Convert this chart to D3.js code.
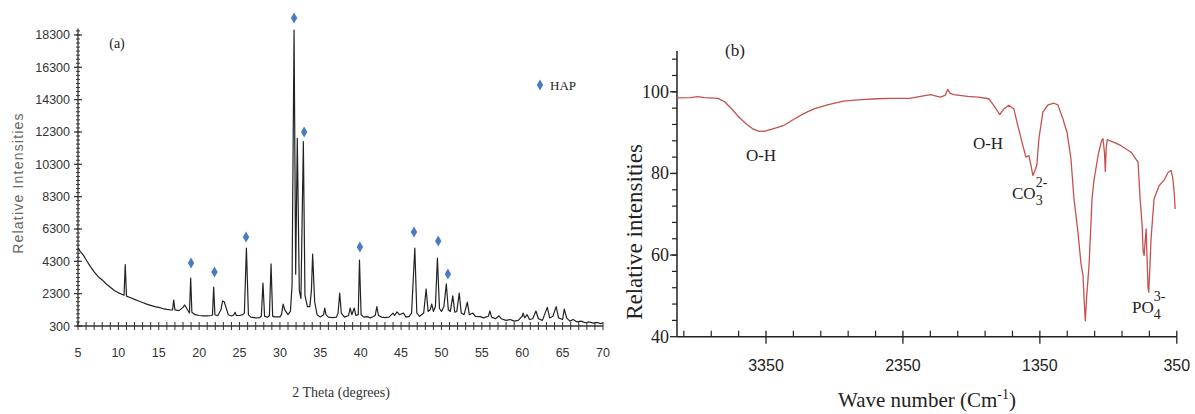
<!DOCTYPE html>
<html><head><meta charset="utf-8">
<script src="https://cdn.jsdelivr.net/npm/d3@7"></script>
<style>body{margin:0;background:#fff}svg{display:block}</style>
</head><body>
<svg id="c" width="1195" height="414"></svg>
<script>
// ---------- Panel (a): XRD ----------
const xrdTheta = [5.0,5.3,5.7,6.0,6.5,7.0,7.5,8.0,8.5,9.0,9.5,10.0,10.5,10.7,10.85,11.0,11.5,12.0,12.5,13.0,13.5,14.0,14.5,15.0,15.5,16.0,16.5,16.7,16.85,17.0,17.5,18.0,18.2,18.5,18.8,18.95,19.1,19.5,20.0,20.5,21.0,21.5,21.65,21.8,21.95,22.3,22.7,22.9,23.1,23.3,23.6,24.0,24.3,24.45,24.6,25.0,25.4,25.6,25.85,26.1,26.4,27.0,27.5,27.7,27.9,28.1,28.5,28.7,28.9,29.1,29.4,30.0,30.2,30.4,30.6,31.0,31.3,31.5,31.75,31.95,32.15,32.4,32.6,32.9,33.1,33.4,33.7,33.9,34.05,34.3,34.6,35.0,35.4,35.55,35.7,36.0,36.5,37.0,37.2,37.4,37.6,38.0,38.5,38.7,38.9,39.2,39.4,39.7,39.85,40.05,40.4,40.8,41.2,41.8,42.0,42.2,42.6,43.0,43.5,44.0,44.2,44.5,44.8,45.3,45.6,46.0,46.3,46.7,46.95,47.3,47.8,48.1,48.35,48.6,48.8,49.0,49.25,49.5,49.75,50.0,50.3,50.6,50.85,51.1,51.4,51.65,51.9,52.2,52.45,52.8,53.2,53.45,53.9,54.2,54.8,55.2,55.8,56.0,56.2,56.7,57.1,57.4,58.0,58.5,59.0,59.5,60.0,60.1,60.3,60.6,60.9,61.3,61.7,62.0,62.5,63.1,63.4,63.8,64.2,64.5,65.0,65.2,65.5,65.9,66.3,66.8,67.3,67.8,68.3,68.8,69.3,69.7,70.0];
const xrdIntensity = [5100,4900,4650,4400,4000,3650,3350,3150,2900,2700,2500,2350,2250,2200,4100,2150,2050,1950,1850,1750,1650,1580,1500,1450,1380,1330,1290,1300,1900,1300,1250,1450,1600,1350,1100,3270,1150,1000,950,930,930,950,980,2710,1000,930,1300,1850,1800,1500,1000,920,1000,1150,950,950,1000,1100,5125,1000,850,800,820,900,2960,900,850,950,4140,900,860,860,1000,1650,1300,1000,1200,2800,18600,3500,11900,2500,2000,11700,2200,1500,1500,2500,4750,1800,1000,850,1000,1410,1000,850,820,850,1100,2340,1100,850,950,1410,1000,1410,950,1000,4380,1000,850,880,800,950,1500,950,850,820,850,1100,950,1170,1000,1100,850,900,1100,5125,1100,900,1100,2590,1200,1300,1660,1200,1500,4500,1400,1200,1500,2900,1300,1200,2160,1150,1200,2340,1100,1000,1780,1000,1100,900,880,800,900,1230,850,750,920,750,650,700,600,650,900,1100,800,1000,700,750,1230,750,650,1450,800,900,1500,800,700,1350,800,600,700,550,600,500,550,480,520,450,500];
const hapTheta  = [19.0,21.9,25.8,31.75,33.0,39.9,46.6,49.6,50.8];
const hapMarker = [4200,3640,5800,19350,12300,5190,6120,5560,3520];
const xrdYTicks = [300,2300,4300,6300,8300,10300,12300,14300,16300,18300];
const xrdXTicks = [5,10,15,20,25,30,35,40,45,50,55,60,65,70];

// ---------- Panel (b): FTIR ----------
const irWave = [4000,3900,3850,3800,3700,3650,3600,3550,3500,3450,3400,3350,3300,3224,3150,3078,3000,2902,2785,2650,2536,2450,2300,2221,2148,2100,2075,2040,2023,2005,1980,1877,1800,1723,1687,1660,1643,1613,1577,1540,1511,1474,1452,1430,1415,1401,1386,1372,1357,1328,1291,1247,1218,1182,1152,1123,1101,1072,1050,1035,1025,1018,1008,991,969,955,925,900,889,878,872,866,858,845,800,757,684,633,618,603,596,589,582,574,566,560,555,548,538,516,479,440,413,391,380,369,362];
const irTrans = [98.5,98.6,98.8,98.6,98.4,97.5,95.8,93.9,92.3,91.0,90.3,90.4,90.9,91.7,93.2,94.6,95.8,96.8,97.7,98.1,98.3,98.4,98.4,98.9,99.3,98.9,98.7,99.2,100.6,99.6,99.3,98.9,98.7,98.3,96.7,95.3,94.4,95.8,96.7,95.8,91.7,86.8,84.0,84.4,82.0,79.5,80.7,82.0,88.5,95.0,96.8,97.2,96.8,93.4,90.1,83.6,73.8,65.7,58.0,55.0,48.0,43.9,50.0,57.4,73.8,78.3,84.4,88.0,88.5,85.0,80.5,86.0,88.3,88.1,87.5,86.8,85.2,82.8,73.8,67.2,61.0,59.9,63.0,66.4,58.0,52.0,50.9,56.0,64.0,73.8,77.0,78.5,80.3,80.7,79.0,75.4,71.3];
const irYTicks = [40,60,80,100];
const irXTicks = [3350,2350,1350,350];

const svg = d3.select("#c");
const serif = "Liberation Serif, Times New Roman, serif";
const sans = "Liberation Sans, Arial, sans-serif";

// ===== Panel (a) =====
const xA = d3.scaleLinear().domain([5,70]).range([78,603]);
const yA = d3.scaleLinear().domain([300,18700]).range([326,28.5]);
const axCol = "#333";
const gA = svg.append("g");

gA.append("line").attr("x1",78).attr("x2",78).attr("y1",yA(18700)).attr("y2",yA(300)).attr("stroke",axCol).attr("stroke-width",1.3);
gA.append("line").attr("x1",78).attr("x2",603).attr("y1",326).attr("y2",326).attr("stroke",axCol).attr("stroke-width",1.3);

const yMinor = d3.range(300,18700,250);
gA.selectAll(".ymin").data(yMinor).join("line").attr("x1",76).attr("x2",80)
  .attr("y1",d=>yA(d)).attr("y2",d=>yA(d)).attr("stroke",axCol).attr("stroke-width",1);
gA.selectAll(".ymaj").data(xrdYTicks).join("line").attr("x1",74).attr("x2",82)
  .attr("y1",d=>yA(d)).attr("y2",d=>yA(d)).attr("stroke",axCol).attr("stroke-width",1.2);
gA.selectAll(".ylab").data(xrdYTicks).join("text").attr("x",70).attr("y",d=>yA(d)+4.5)
  .attr("text-anchor","end").attr("font-family",sans).attr("font-size",12.5)
  .attr("fill","#333").text(d=>d);

const xMinor = d3.range(5,71,1);
gA.selectAll(".xmin").data(xMinor).join("line").attr("x1",d=>xA(d)).attr("x2",d=>xA(d))
  .attr("y1",322).attr("y2",330).attr("stroke",axCol).attr("stroke-width",1);
gA.selectAll(".xlab").data(xrdXTicks).join("text").attr("x",d=>xA(d)).attr("y",357)
  .attr("text-anchor","middle").attr("font-family",sans).attr("font-size",12.5)
  .attr("fill","#333").text(d=>d);

const lineA = d3.line().x(d=>xA(d[0])).y(d=>yA(d[1]));
gA.append("path").datum(d3.zip(xrdTheta,xrdIntensity)).attr("d",lineA)
  .attr("fill","none").attr("stroke","#222").attr("stroke-width",1.2).attr("stroke-linejoin","round");

const diamond = (cx,cy)=>`M${cx},${cy-5.5}L${cx+3.2},${cy}L${cx},${cy+5.5}L${cx-3.2},${cy}Z`;
gA.selectAll(".hap").data(d3.zip(hapTheta,hapMarker)).join("path")
  .attr("d",d=>diamond(xA(d[0]),yA(d[1]))).attr("fill","#4a7cc4");
gA.append("path").attr("d",diamond(540,85)).attr("fill","#4a7cc4");
gA.append("text").attr("x",550).attr("y",89.5).attr("font-family",serif)
  .attr("font-size",13).attr("fill","#222").text("HAP");

gA.append("text").attr("x",117).attr("y",48).attr("text-anchor","middle")
  .attr("font-family",serif).attr("font-size",14).attr("fill","#222").text("(a)");
gA.append("text").attr("x",341).attr("y",397).attr("text-anchor","middle")
  .attr("font-family",serif).attr("font-size",14).attr("fill","#333").text("2 Theta (degrees)");
gA.append("text").attr("transform","translate(23,183) rotate(-90)").attr("text-anchor","middle")
  .attr("font-family",sans).attr("font-size",14).attr("letter-spacing",1.2)
  .attr("fill","#666").text("Relative Intensities");

// ===== Panel (b) =====
const xB = d3.scaleLinear().domain([4000,350]).range([677,1176.8]);
const yB = d3.scaleLinear().domain([40,110]).range([336.7,51]);
const gB = svg.append("g");

gB.append("line").attr("x1",677).attr("x2",677).attr("y1",yB(110)).attr("y2",yB(40)).attr("stroke","#222").attr("stroke-width",1.5);
gB.append("line").attr("x1",677).attr("x2",xB(350)).attr("y1",yB(40)).attr("y2",yB(40)).attr("stroke","#222").attr("stroke-width",1.5);

const yMinorB = d3.range(44,110,4);
gB.selectAll(".ybm").data(yMinorB).join("line").attr("x1",672).attr("x2",677)
  .attr("y1",d=>yB(d)).attr("y2",d=>yB(d)).attr("stroke","#222").attr("stroke-width",1.2);
gB.selectAll(".ybM").data(irYTicks).join("line").attr("x1",670).attr("x2",677)
  .attr("y1",d=>yB(d)).attr("y2",d=>yB(d)).attr("stroke","#222").attr("stroke-width",1.3);
gB.selectAll(".ybl").data(irYTicks).join("text").attr("x",669).attr("y",d=>yB(d)+6)
  .attr("text-anchor","end").attr("font-family",serif).attr("font-size",18).attr("fill","#222").text(d=>d);

const xMinorSet = Array.from(new Set(d3.range(3950,349,-200).concat(d3.range(3150,349,-200)))).filter(v=>!irXTicks.includes(v));
gB.selectAll(".xbm").data(xMinorSet).join("line").attr("x1",d=>xB(d)).attr("x2",d=>xB(d))
  .attr("y1",yB(40)-6).attr("y2",yB(40)).attr("stroke","#222").attr("stroke-width",1.2);
gB.selectAll(".xbM").data(irXTicks).join("line").attr("x1",d=>xB(d)).attr("x2",d=>xB(d))
  .attr("y1",yB(40)-6).attr("y2",yB(40)+7).attr("stroke","#222").attr("stroke-width",1.3);
gB.selectAll(".xbl").data(irXTicks).join("text").attr("x",d=>xB(d)).attr("y",371)
  .attr("text-anchor","middle").attr("font-family",sans).attr("font-size",16).attr("fill","#222").text(d=>d);

const lineB = d3.line().x(d=>xB(d[0])).y(d=>yB(d[1]));
gB.append("path").datum(d3.zip(irWave,irTrans)).attr("d",lineB)
  .attr("fill","none").attr("stroke","#c4514e").attr("stroke-width",1.3).attr("stroke-linejoin","round");

gB.append("text").attr("x",735).attr("y",56).attr("text-anchor","middle")
  .attr("font-family",serif).attr("font-size",17).attr("fill","#222").text("(b)");
gB.append("text").attr("transform","translate(642,232) rotate(-90)").attr("text-anchor","middle")
  .attr("font-family",serif).attr("font-size",23).attr("fill","#222").text("Relative intensities");
const wt = gB.append("text").attr("x",927).attr("y",407).attr("text-anchor","middle")
  .attr("font-family",serif).attr("font-size",21).attr("fill","#222");
wt.append("tspan").text("Wave number (Cm");
wt.append("tspan").attr("dy",-8).attr("font-size",14).text("-1");
wt.append("tspan").attr("dy",8).text(")");

const ann = (x,y,t)=>gB.append("text").attr("x",x).attr("y",y).attr("text-anchor","middle")
  .attr("font-family",serif).attr("font-size",17).attr("fill","#222").text(t);
ann(761,161,"O-H");
ann(988,149,"O-H");
const co = gB.append("text").attr("x",1012).attr("y",199).attr("font-family",serif).attr("font-size",17).attr("fill","#222");
co.append("tspan").text("CO");
co.append("tspan").attr("dy",6).attr("font-size",14).text("3");
co.append("tspan").attr("dx",-7).attr("dy",-18).attr("font-size",14).text("2-");
const po = gB.append("text").attr("x",1132).attr("y",313).attr("font-family",serif).attr("font-size",17).attr("fill","#222");
po.append("tspan").text("PO");
po.append("tspan").attr("dy",6).attr("font-size",14).text("4");
po.append("tspan").attr("dx",-7).attr("dy",-18).attr("font-size",14).text("3-");
</script>
</body></html>
